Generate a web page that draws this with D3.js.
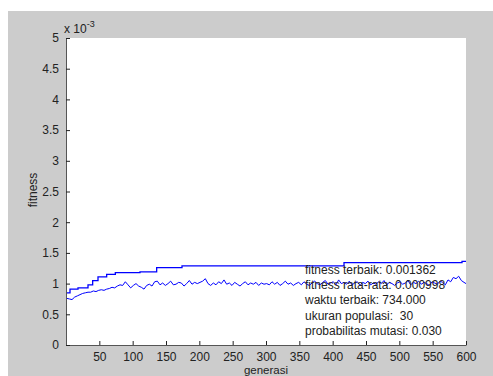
<!DOCTYPE html>
<html>
<head>
<meta charset="utf-8">
<script src="https://cdn.jsdelivr.net/npm/d3@7"></script>
<style>
  body { margin: 0; background: #fff; }
  svg { display: block; font-family: "Liberation Sans", Arial, sans-serif; }
  .info { white-space: pre; }
</style>
</head>
<body>
<div id="chart"></div>
<script>
// values in units of 1e-3
const xTicks = [50, 100, 150, 200, 250, 300, 350, 400, 450, 500, 550, 600];
const yTicks = [0, 0.5, 1, 1.5, 2, 2.5, 3, 3.5, 4, 4.5, 5];

// best fitness: change points (generation, value)
const bestGen = [1, 6, 18, 33, 40, 48, 61, 74, 111, 136, 174, 417, 594, 600];
const bestVal = [0.85, 0.91, 0.93, 0.98, 1.05, 1.11, 1.15, 1.18, 1.19, 1.26, 1.29, 1.34, 1.362, 1.362];

// mean fitness, read every 4 generations from gen 1, last at gen 600
const meanVal = [
  0.76, 0.75, 0.74, 0.78, 0.80, 0.82, 0.84, 0.85, 0.86, 0.86, 0.88, 0.87, 0.89, 0.90, 0.89, 0.91, 0.92, 0.94, 0.93, 0.96, 0.98, 0.97, 1.03, 0.98, 0.93,
  0.97, 1.00, 0.96, 0.94, 0.91, 0.97, 0.99, 0.96, 1.03, 1.04, 0.98, 1.01, 0.97, 1.00, 1.04, 0.98, 0.99, 1.02, 1.01, 0.96, 1.00, 1.05, 0.99, 1.02, 1.00,
  1.02, 1.04, 1.08, 1.00, 0.97, 1.01, 0.98, 1.03, 1.00, 1.06, 0.99, 1.01, 0.97, 1.02, 0.99, 0.96, 1.00, 1.03, 0.98, 1.01, 0.99, 1.02, 0.97, 1.01, 0.99,
  1.00, 0.98, 1.03, 0.99, 1.02, 0.97, 1.00, 1.04, 0.99, 1.01, 0.97, 1.00, 1.02, 0.98, 1.03, 0.99, 0.97, 1.01, 1.04, 1.00, 0.98, 1.02, 1.05, 0.99, 1.01,
  1.03, 0.98, 1.06, 1.00, 1.02, 0.99, 1.04, 0.98, 1.01, 1.03, 0.97, 1.02, 1.00, 1.04, 0.98, 1.01, 0.99, 1.03, 1.00, 1.05, 0.98, 1.02, 1.00, 0.97, 1.01,
  1.03, 0.99, 1.01, 1.05, 0.98, 1.02, 1.00, 1.04, 0.99, 1.02, 1.00, 0.97, 1.03, 1.01, 0.99, 1.04, 1.02, 0.98, 1.06, 1.03, 1.10, 1.08, 1.12, 1.05, 1.02,
  1.00
];

const infoLines = [
  "fitness terbaik: 0.001362",
  "fitness rata-rata: 0.000998",
  "waktu terbaik: 734.000",
  "ukuran populasi:  30",
  "probabilitas mutasi: 0.030"
];

const W = 493, H = 376;
const svg = d3.select("#chart").append("svg").attr("width", W).attr("height", H);

// figure background
svg.append("rect").attr("x", 8).attr("y", 11).attr("width", W - 8).attr("height", H - 11).attr("fill", "#cccccc");

const L = 66, R = 466, T = 38, B = 345;
const x = d3.scaleLinear().domain([0, 600]).range([L, R]);
const y = d3.scaleLinear().domain([0, 5]).range([B, T]);

svg.append("rect").attr("x", L).attr("y", T).attr("width", R - L).attr("height", B - T).attr("fill", "#fff");

const meanData = meanVal.map((v, i) => [i === meanVal.length - 1 ? 600 : 1 + 4 * i, v]);
const bestData = bestGen.map((g, i) => [g, bestVal[i]]);

svg.append("path")
  .datum(bestData)
  .attr("fill", "none").attr("stroke", "#0000ff").attr("stroke-width", 1.3)
  .attr("d", d3.line().curve(d3.curveStepAfter).x(d => x(d[0])).y(d => y(d[1])));

svg.append("path")
  .datum(meanData)
  .attr("fill", "none").attr("stroke", "#0000ff").attr("stroke-width", 1)
  .attr("d", d3.line().x(d => x(d[0])).y(d => y(d[1])));

// axes
const xAxis = svg.append("g").attr("transform", `translate(0,${B})`)
  .call(d3.axisBottom(x).tickValues(xTicks).tickSizeInner(-4).tickSizeOuter(0).tickPadding(7));
const yAxis = svg.append("g").attr("transform", `translate(${L},0)`)
  .call(d3.axisLeft(y).tickValues(yTicks).tickSizeInner(-4).tickSizeOuter(0).tickPadding(7).tickFormat(d3.format("")));

[xAxis, yAxis].forEach(g => {
  g.select(".domain").attr("stroke", "#555");
  g.selectAll(".tick line").attr("stroke", "#222");
  g.selectAll("text").attr("font-size", 12).attr("fill", "#222")
    .attr("font-family", "'Liberation Sans', Arial, sans-serif");
});

// exponent label
const ex = svg.append("text").attr("x", 64).attr("y", 33).attr("font-size", 12).attr("fill", "#222");
ex.append("tspan").text("x 10");
ex.append("tspan").attr("dy", -6).attr("font-size", 9).text("-3");

// axis labels
svg.append("text").attr("transform", "translate(37,190) rotate(-90)")
  .attr("text-anchor", "middle").attr("font-size", 12).attr("fill", "#222").text("fitness");
svg.append("text").attr("x", 266).attr("y", 374)
  .attr("text-anchor", "middle").attr("font-size", 11.5).attr("fill", "#222").text("generasi");

// info text
svg.append("g").selectAll("text").data(infoLines).join("text")
  .attr("class", "info")
  .attr("x", 305).attr("y", (d, i) => 274 + i * 15.2)
  .attr("font-size", 12).attr("fill", "#222").text(d => d);
</script>
</body>
</html>
